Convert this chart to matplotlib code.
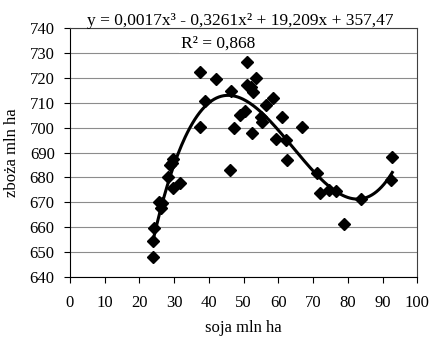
import matplotlib
matplotlib.use("Agg")
import matplotlib.pyplot as plt
import numpy as np

plt.rcParams['font.family'] = ['Liberation Serif', 'DejaVu Serif']

# soja (x) and zboza (y), mln ha
soja = [23.8, 23.8, 24.2, 25.5, 26.2, 26.6, 28.3, 28.9, 29.3, 29.7, 29.7, 31.7,
        37.4, 37.4, 38.9, 42.0, 46.2, 46.4, 47.3, 48.9, 50.4, 50.9, 50.9, 52.0,
        52.6, 53.5, 52.5, 55.0, 55.2, 56.5, 58.5, 59.2, 61.1, 62.2, 62.4, 66.9,
        71.1, 71.9, 74.5, 76.6, 79.0, 83.8, 92.3, 92.8]
zboza = [647.8, 654.2, 659.5, 670.2, 667.5, 669.8, 680.3, 684.8, 685.9, 687.3, 675.8, 677.6,
         722.3, 700.2, 710.9, 719.5, 683.1, 714.9, 699.8, 705.1, 706.7, 726.3, 717.2, 716.2,
         714.5, 720.1, 697.7, 704.4, 702.4, 709.2, 711.8, 695.3, 704.2, 695.0, 686.9, 700.4,
         681.8, 673.5, 675.1, 674.7, 661.4, 671.3, 678.8, 688.0]

eq_label = "y = 0,0017x³ - 0,3261x² + 19,209x + 357,47"
r2_label = "R² = 0,868"

fig = plt.figure(figsize=(4.31, 3.37), dpi=100)
ax = fig.add_axes([0.1624, 0.1789, 0.8058, 0.7371])

# 3rd degree polynomial trend line fitted to the points
coef = np.polyfit(soja, zboza, 3)
xs = np.linspace(min(soja), max(soja), 200)
ax.plot(soja, zboza, linestyle='none', marker='D', color='black', markersize=6.5, zorder=3)
ax.plot(xs, np.polyval(coef, xs), color='black', linewidth=2.2, zorder=4)

ax.set_xlim(0, 100)
ax.set_ylim(640, 740)
ax.set_xticks(np.arange(0, 101, 10))
ax.set_yticks(np.arange(640, 741, 10))
ax.yaxis.grid(True, color='#8c8c8c', linewidth=0.8)
ax.set_axisbelow(True)
for s in ax.spines.values():
    s.set_color('#404040')
    s.set_linewidth(0.8)
ax.spines['left'].set_color('black')
ax.spines['bottom'].set_color('black')
ax.tick_params(direction='out', length=4, width=0.8, labelsize=12, colors='black')
ax.tick_params(axis='x', pad=9)
ax.tick_params(axis='y', pad=7)

ax.set_xlabel('soja mln ha', fontsize=12, labelpad=7)
ax.set_ylabel('zboża mln ha', fontsize=12, labelpad=7)

ax.text(0.489, 743.0, eq_label,
        transform=ax.get_yaxis_transform(), ha='center', va='center', fontsize=12.5)
ax.text(0.426, 733.9, r2_label,
        transform=ax.get_yaxis_transform(), ha='center', va='center', fontsize=12.5,
        bbox=dict(facecolor='white', edgecolor='none', pad=1))

fig.savefig("out.png", dpi=100)
